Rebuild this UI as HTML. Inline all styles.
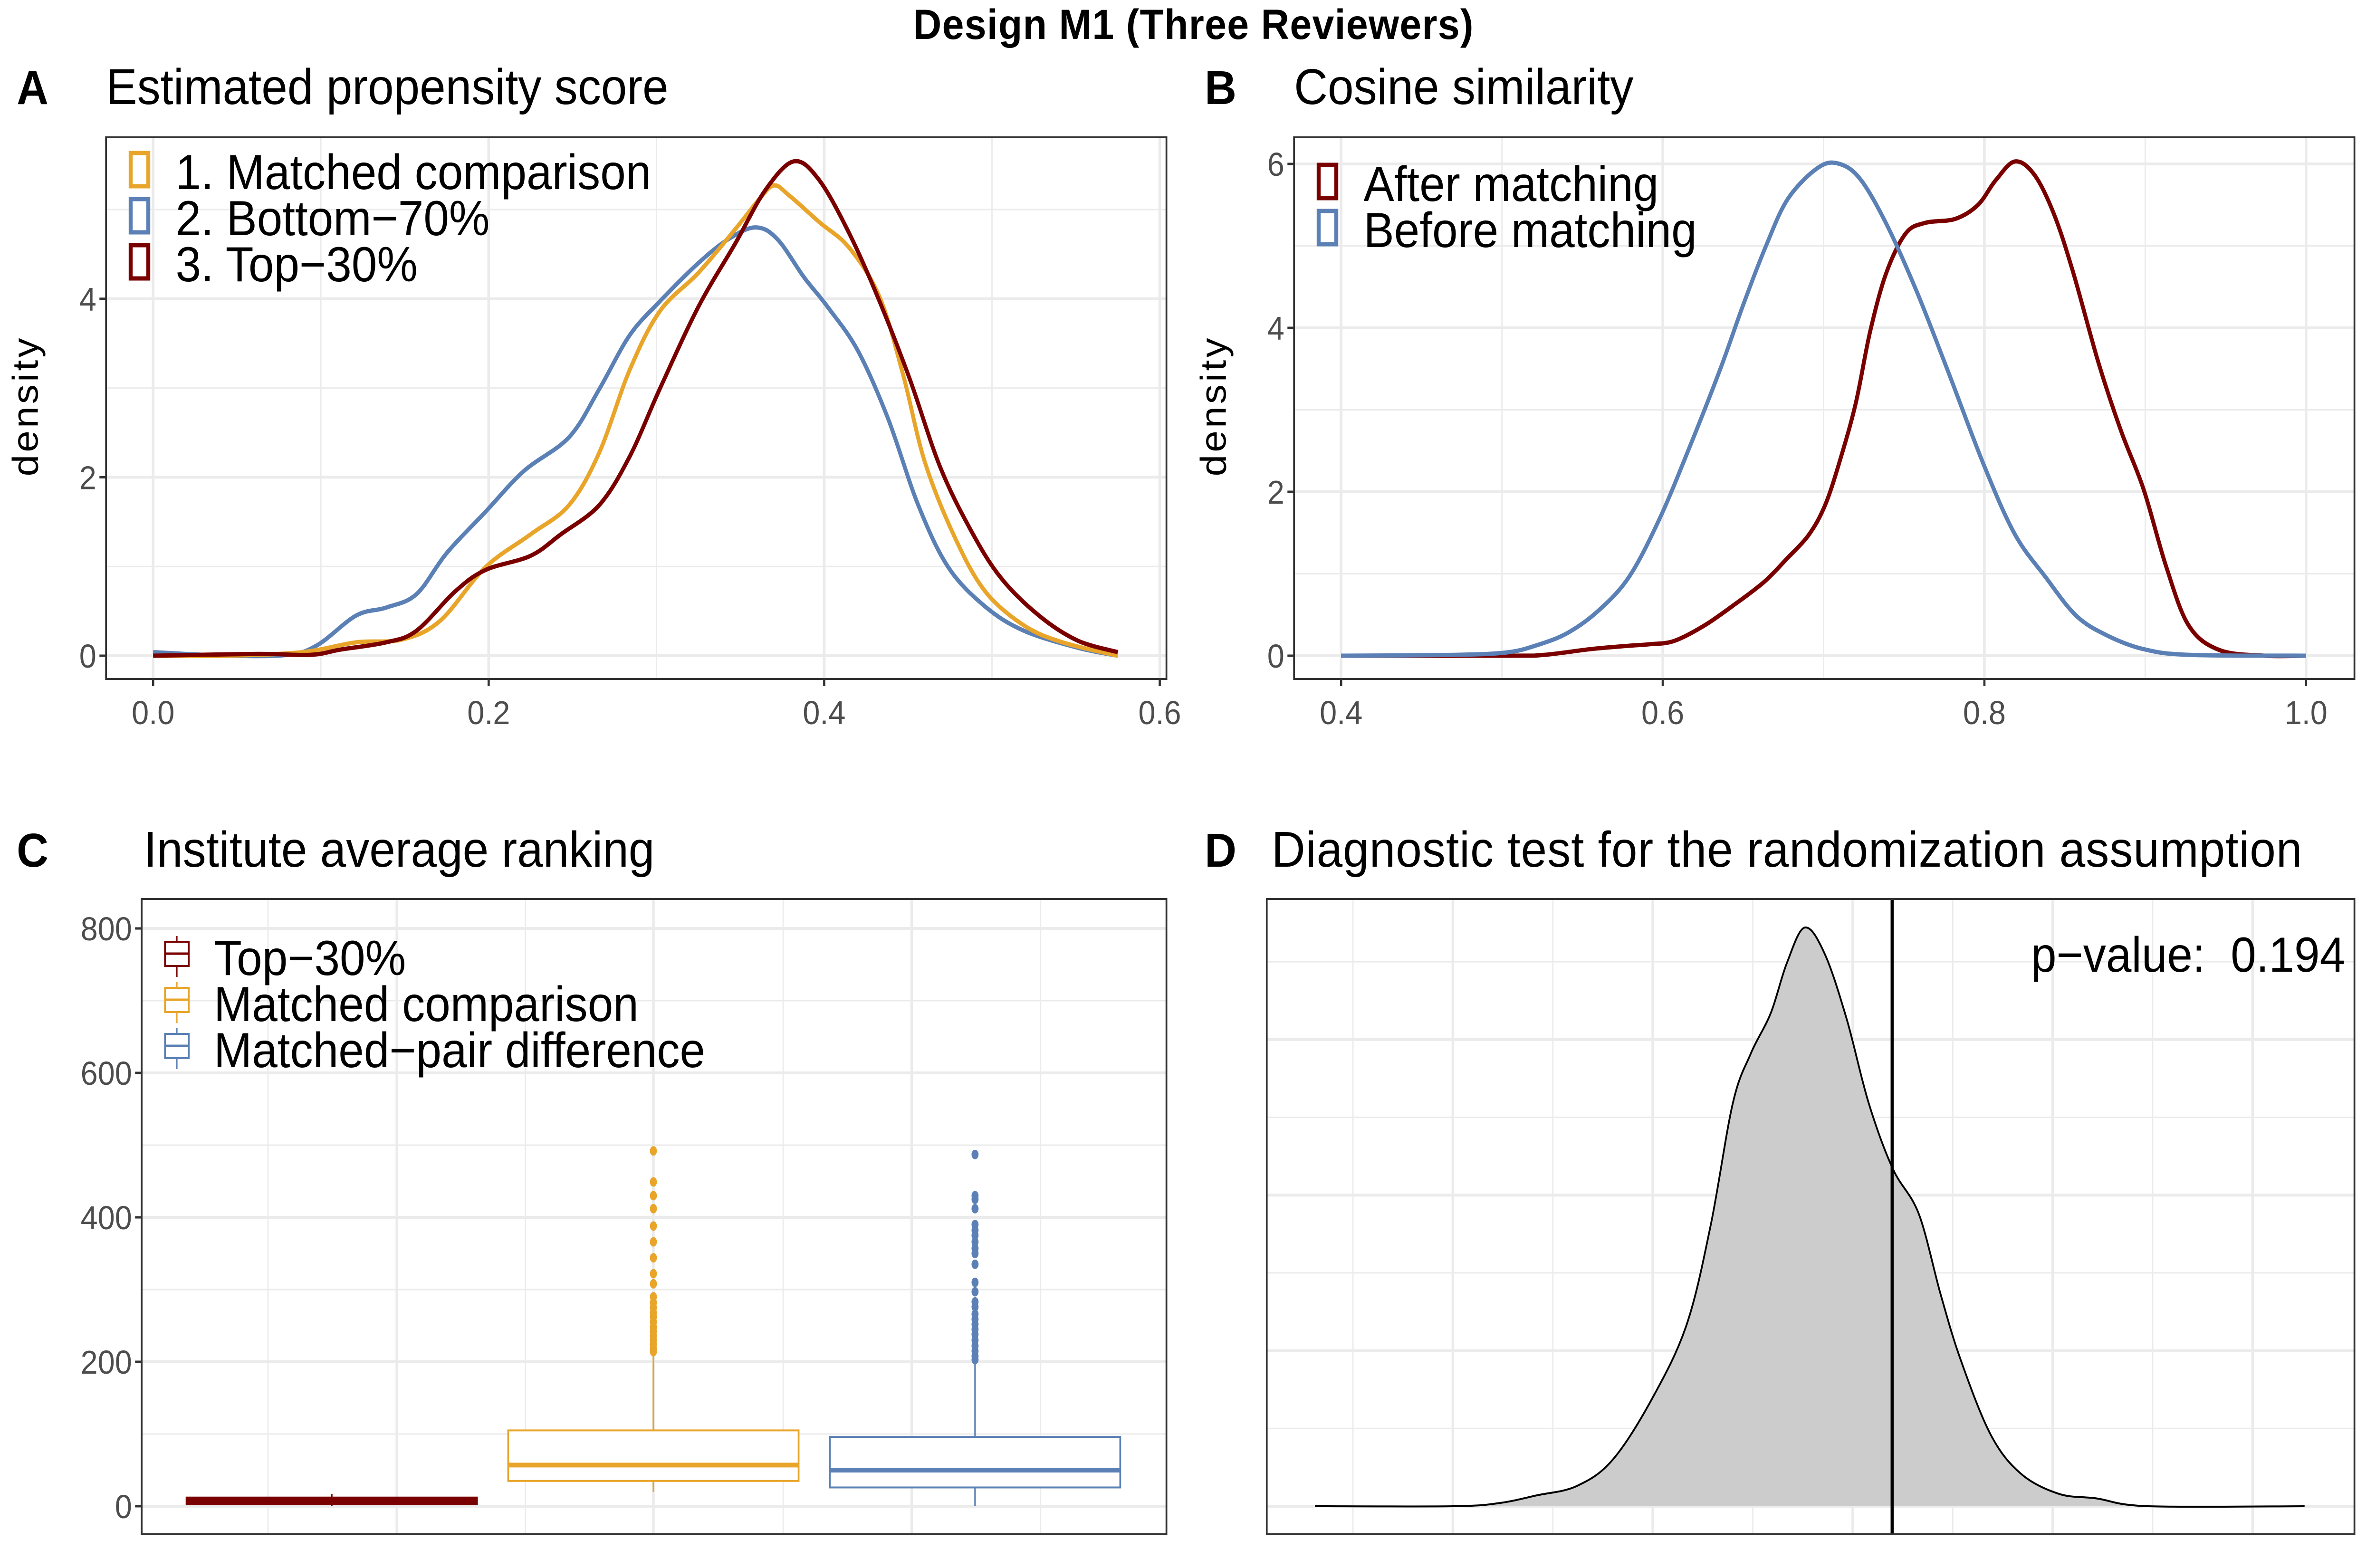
<!DOCTYPE html>
<html><head><meta charset="utf-8"><style>
html,body{margin:0;padding:0;background:#fff;width:100%;height:100%;overflow:hidden;}
svg{display:block;width:100vw;height:100vh;font-family:"Liberation Sans",Arial,sans-serif;}
</style></head><body>
<svg id="fig" viewBox="0 0 5400 3300" preserveAspectRatio="none" xmlns="http://www.w3.org/2000/svg">
<rect width="5400" height="3300" fill="#fff"/>
<text x="2712" y="82" font-size="89" font-weight="bold" text-anchor="middle" textLength="1273">Design M1 (Three Reviewers)</text>
<g id="pA"></g>
<g id="pB"></g>
<g id="pC"></g>
<g id="pD"></g>
</svg>
<script>
// ---- Panel A data (propensity score densities) ----
const aX_matched=[0,0.044,0.089,0.121,0.148,0.171,0.198,0.225,0.248,0.266,0.284,0.302,0.325,0.347,0.361,0.370,0.379,0.397,0.415,0.433,0.447,0.460,0.478,0.496,0.519,0.542,0.575];
const aY_matched=[0,0,0.04,0.15,0.18,0.39,0.99,1.36,1.69,2.28,3.2,3.86,4.29,4.78,5.11,5.27,5.16,4.86,4.57,4.02,3.15,2.17,1.32,0.72,0.34,0.15,0];
const aX_bottom=[0,0.044,0.08,0.098,0.121,0.139,0.157,0.175,0.198,0.221,0.248,0.266,0.284,0.302,0.325,0.343,0.359,0.372,0.388,0.402,0.420,0.438,0.456,0.474,0.496,0.519,0.551,0.575];
const aY_bottom=[0.04,0,0.01,0.12,0.45,0.54,0.69,1.15,1.61,2.07,2.45,2.99,3.59,3.97,4.40,4.67,4.80,4.67,4.24,3.91,3.42,2.66,1.69,0.99,0.55,0.28,0.09,0];
const aX_top=[0,0.062,0.094,0.112,0.139,0.157,0.180,0.198,0.225,0.243,0.266,0.284,0.302,0.325,0.347,0.365,0.382,0.397,0.415,0.433,0.451,0.469,0.487,0.505,0.528,0.551,0.575];
const aY_top=[0,0.02,0.01,0.07,0.15,0.28,0.72,0.96,1.12,1.36,1.69,2.23,2.99,3.91,4.62,5.22,5.54,5.33,4.73,3.97,3.10,2.12,1.42,0.88,0.45,0.17,0.04];
const aTicksX=[0,0.2,0.4,0.6], aTicksXLab=["0.0","0.2","0.4","0.6"];
const aTicksY=[0,2,4], aTicksYLab=["0","2","4"];
const aLegend=["1. Matched comparison","2. Bottom\u221270%","3. Top\u221230%"];
// ---- Panel B data (cosine similarity) ----
const bX_after=[0.4,0.503,0.526,0.555,0.578,0.592,0.607,0.626,0.645,0.663,0.677,0.691,0.701,0.710,0.720,0.729,0.739,0.751,0.763,0.782,0.796,0.807,0.819,0.831,0.843,0.855,0.871,0.885,0.899,0.913,0.927,0.946,0.974,1.0];
const bY_after=[0,0,0.01,0.08,0.12,0.14,0.18,0.37,0.63,0.90,1.18,1.48,1.84,2.37,3.08,3.96,4.67,5.15,5.28,5.33,5.50,5.80,6.03,5.87,5.40,4.69,3.57,2.74,2.03,1.09,0.37,0.07,0,0];
const bX_before=[0.4,0.470,0.503,0.522,0.541,0.560,0.579,0.598,0.617,0.636,0.650,0.664,0.678,0.697,0.710,0.723,0.739,0.758,0.777,0.800,0.819,0.838,0.857,0.876,0.899,0.928,1.0];
const bY_before=[0,0.01,0.04,0.13,0.28,0.55,0.96,1.67,2.56,3.51,4.28,4.99,5.58,5.96,6.0,5.81,5.27,4.44,3.49,2.31,1.48,0.96,0.49,0.25,0.08,0.01,0];
const bTicksX=[0.4,0.6,0.8,1.0], bTicksXLab=["0.4","0.6","0.8","1.0"];
const bTicksY=[0,2,4,6], bTicksYLab=["0","2","4","6"];
const bLegend=["After matching","Before matching"];
// ---- Panel C data (boxplots) ----
const cGroups=["Top\u221230%","Matched comparison","Matched\u2212pair difference"];
const cPos=[0,1,2];
const cMin=[0,20,0], cQ1=[3,35,26], cMed=[7,57,50], cQ3=[12,105,96], cMax=[17,210,200];
const cOut1=[492,449,430,412,388,366,344,322,308,290,282,275,268,262,255,248,242,236,230,224,218,214];
const cOut2=[487,430,425,412,390,382,375,366,357,350,335,310,297,283,276,266,259,252,245,238,230,222,215,208,203];
const cTicksY=[0,200,400,600,800], cTicksYLab=["0","200","400","600","800"];
// ---- Panel D data (null distribution) ----
const dX=[-0.69,0,0.23,0.42,0.62,0.80,1.0,1.17,1.29,1.40,1.49,1.59,1.67,1.76,1.86,1.97,2.08,2.20,2.33,2.44,2.54,2.69,2.84,3.03,3.22,3.48,4.26];
const dY=[0,0,0.02,0.07,0.13,0.30,0.70,1.17,1.81,2.59,2.91,3.17,3.49,3.72,3.55,3.13,2.59,2.17,1.88,1.36,0.94,0.46,0.21,0.08,0.05,0,0];
const dVline=2.197;
const dPval="p\u2212value:\u00a0\u00a00.194";

const NS="http://www.w3.org/2000/svg";
function mk(parent,tag,attrs,text){const e=document.createElementNS(NS,tag);for(const k in attrs)e.setAttribute(k,attrs[k]);if(text!==undefined)e.textContent=text;parent.appendChild(e);return e;}
function smooth(pts){let d="M"+pts[0][0]+","+pts[0][1];for(let i=0;i<pts.length-1;i++){const p0=pts[Math.max(0,i-1)],p1=pts[i],p2=pts[i+1],p3=pts[Math.min(pts.length-1,i+2)];const c1=[p1[0]+(p2[0]-p0[0])/6,p1[1]+(p2[1]-p0[1])/6],c2=[p2[0]-(p3[0]-p1[0])/6,p2[1]-(p3[1]-p1[1])/6];d+=" C"+c1[0].toFixed(1)+","+c1[1].toFixed(1)+" "+c2[0].toFixed(1)+","+c2[1].toFixed(1)+" "+p2[0].toFixed(1)+","+p2[1].toFixed(1);}return d;}
const GRID="#ebebeb",RED="#7a0000",ORG="#e8a52a",BLU="#5b80b5";

function frame(g,L,T,R,B){const f=mk(g,"rect",{x:L,y:T,width:R-L,height:B-T,fill:"none",stroke:"#333",'stroke-width':4});}
function label(g,x,y,letter,title,tx,tl){const a=mk(g,"text",{x:x,y:y,'font-size':100,'font-weight':'bold'},letter);const at={x:tx,y:y,'font-size':106};if(tl)at.textLength=tl;const t=mk(g,"text",at,title);}
function ytitle(g,x,y){const t=mk(g,"text",{x:0,y:0,'font-size':82,'text-anchor':'middle',transform:`translate(${x},${y}) rotate(-90)`,textLength:291},"density");}

function densityPanel(g,o){
 const {L,T,R,B,x0,xv0,xpx,y0,ypx}=o;
 const sx=v=>x0+(v-xv0)*xpx, sy=v=>y0-v*ypx;
 o.minX.forEach(v=>{const l=mk(g,"line",{x1:sx(v),x2:sx(v),y1:T,y2:B,stroke:GRID,'stroke-width':3});});
 o.minY.forEach(v=>{const l=mk(g,"line",{x1:L,x2:R,y1:sy(v),y2:sy(v),stroke:GRID,'stroke-width':3});});
 o.tx.forEach((v,i)=>{const l=mk(g,"line",{x1:sx(v),x2:sx(v),y1:T,y2:B,stroke:GRID,'stroke-width':6});
  const k=mk(g,"line",{x1:sx(v),x2:sx(v),y1:B,y2:B+15,stroke:"#333",'stroke-width':5});
  const t=mk(g,"text",{x:sx(v),y:B+95,'font-size':70,fill:"#4d4d4d",'text-anchor':'middle'},o.txl[i]);});
 o.ty.forEach((v,i)=>{const l=mk(g,"line",{x1:L,x2:R,y1:sy(v),y2:sy(v),stroke:GRID,'stroke-width':6});
  const k=mk(g,"line",{x1:L-15,x2:L,y1:sy(v),y2:sy(v),stroke:"#333",'stroke-width':5});
  const t=mk(g,"text",{x:L-22,y:sy(v)+25,'font-size':70,fill:"#4d4d4d",'text-anchor':'end'},o.tyl[i]);});
 o.series.forEach(s=>{const p=mk(g,"path",{d:smooth(s.x.map((v,i)=>[sx(v),sy(s.y[i])])),fill:"none",stroke:s.c,'stroke-width':9,'stroke-linejoin':'round'});});
 o.leg.forEach((lab,i)=>{const ky=o.legY+i*97;const r=mk(g,"rect",{x:L+56,y:ky-76,width:40,height:70,fill:"#fff",stroke:o.legC[i],'stroke-width':9});
  const t=mk(g,"text",{x:L+158,y:ky,'font-size':104},lab);});
 frame(g,L,T,R,B);
}

// Panel A
const gA=document.getElementById("pA");
label(gA,38,219,"A","Estimated propensity score",241);
ytitle(gA,86,857);
densityPanel(gA,{L:241,T:289,R:2651,B:1429,x0:348,xv0:0,xpx:3813,y0:1380,ypx:187.8,
 minX:[0.1,0.3,0.5],minY:[1,3,5],tx:aTicksX,txl:aTicksXLab,ty:aTicksY,tyl:aTicksYLab,
 series:[{x:aX_bottom,y:aY_bottom,c:BLU,n:'line-bottom-70'},{x:aX_matched,y:aY_matched,c:ORG,n:'line-matched-comparison'},{x:aX_top,y:aY_top,c:RED,n:'line-top-30'}],
 leg:aLegend,legC:[ORG,BLU,RED],legY:398});

// Panel B
const gB=document.getElementById("pB");
label(gB,2738,219,"B","Cosine similarity",2941);
ytitle(gB,2786,857);
densityPanel(gB,{L:2941,T:289,R:5351,B:1429,x0:3048,xv0:0.4,xpx:3655,y0:1380,ypx:172.5,
 minX:[0.5,0.7,0.9],minY:[1,3,5],tx:bTicksX,txl:bTicksXLab,ty:bTicksY,tyl:bTicksYLab,
 series:[{x:bX_after,y:bY_after,c:RED,n:'line-after-matching'},{x:bX_before,y:bY_before,c:BLU,n:'line-before-matching'}],
 leg:bLegend,legC:[RED,BLU],legY:423});

// Panel C
(function(){
 const g=document.getElementById("pC");
 const L=322,T=1892,R=2651,B=3229,y0=3170,ypx=1.52;
 const sy=v=>y0-v*ypx, sx=p=>1485+(p-1)*731, hw=330;
 label(g,38,1824,"C","Institute average ranking",327);
 [609,1194,1780,2365].forEach(x=>{const l=mk(g,"line",{x1:x,x2:x,y1:T,y2:B,stroke:GRID,'stroke-width':3});});
 [100,300,500,700].forEach(v=>{const l=mk(g,"line",{x1:L,x2:R,y1:sy(v),y2:sy(v),stroke:GRID,'stroke-width':3});});
 [902,1485,2072].forEach(x=>{const l=mk(g,"line",{x1:x,x2:x,y1:T,y2:B,stroke:GRID,'stroke-width':6});});
 cTicksY.forEach((v,i)=>{const l=mk(g,"line",{x1:L,x2:R,y1:sy(v),y2:sy(v),stroke:GRID,'stroke-width':6});
  const k=mk(g,"line",{x1:L-15,x2:L,y1:sy(v),y2:sy(v),stroke:"#333",'stroke-width':5});
  const t=mk(g,"text",{x:L-22,y:sy(v)+25,'font-size':70,fill:"#4d4d4d",'text-anchor':'end'},cTicksYLab[i]);});
 const cols=[RED,ORG,BLU], outs=[[],cOut1,cOut2];
 cPos.forEach((p,i)=>{const cx=sx(p),c=cols[i];
  const w=mk(g,"line",{x1:cx,x2:cx,y1:sy(cMax[i]),y2:sy(cMin[i]),stroke:c,'stroke-width':3.5});
  const b=mk(g,"rect",{x:cx-hw,y:sy(cQ3[i]),width:2*hw,height:sy(cQ1[i])-sy(cQ3[i]),fill:i==0?RED:"#fff",stroke:c,'stroke-width':4});
  const m=mk(g,"line",{x1:cx-hw,x2:cx+hw,y1:sy(cMed[i]),y2:sy(cMed[i]),stroke:c,'stroke-width':10});
  outs[i].forEach(v=>{const d=mk(g,"ellipse",{cx:cx,cy:sy(v),rx:8,ry:10,fill:c});});
 });
 cGroups.forEach((lab,i)=>{const by=2052+i*97,kx=402,c=cols[i];
  const w=mk(g,"line",{x1:kx,x2:kx,y1:by-82,y2:by+4,stroke:c,'stroke-width':3});
  const r=mk(g,"rect",{x:kx-27,y:by-70,width:54,height:51,fill:"#fff",stroke:c,'stroke-width':4});
  const m=mk(g,"line",{x1:kx-27,x2:kx+27,y1:by-45,y2:by-45,stroke:c,'stroke-width':5});
  const t=mk(g,"text",{x:486,y:by,'font-size':104},lab);});
 frame(g,L,T,R,B);
})();

// Panel D
(function(){
 const g=document.getElementById("pD");
 const L=2879,T=1892,R=5351,B=3229,x0=3302,xpx=454.4,y0=3170,ypx=327.4;
 const sx=v=>x0+v*xpx, sy=v=>y0-v*ypx;
 label(g,2738,1824,"D","Diagnostic test for the randomization assumption",2890,2342);
 [-0.5,0.5,1.5,2.5,3.5].forEach(v=>{const l=mk(g,"line",{x1:sx(v),x2:sx(v),y1:T,y2:B,stroke:GRID,'stroke-width':3});});
 [0.5,1.5,2.5,3.5].forEach(v=>{const l=mk(g,"line",{x1:L,x2:R,y1:sy(v),y2:sy(v),stroke:GRID,'stroke-width':3});});
 [0,1,2,3,4].forEach(v=>{const l=mk(g,"line",{x1:sx(v),x2:sx(v),y1:T,y2:B,stroke:GRID,'stroke-width':6});});
 [0,1,2,3].forEach(v=>{const l=mk(g,"line",{x1:L,x2:R,y1:sy(v),y2:sy(v),stroke:GRID,'stroke-width':6});});
 const pts=dX.map((v,i)=>[sx(v),sy(dY[i])]);
 const d=smooth(pts);
 const a=mk(g,"path",{d:d+` L${sx(dX[dX.length-1])},${sy(0)} L${sx(dX[0])},${sy(0)} Z`,fill:"#cccccc",stroke:"none"});
 const p=mk(g,"path",{d:d,fill:"none",stroke:"#000",'stroke-width':4});
 const v=mk(g,"line",{x1:sx(dVline),x2:sx(dVline),y1:T,y2:B,stroke:"#000",'stroke-width':7});
 const t=mk(g,"text",{x:5330,y:2045,'font-size':104,'text-anchor':'end'},dPval);
 frame(g,L,T,R,B);
})();
</script>
</body></html>
